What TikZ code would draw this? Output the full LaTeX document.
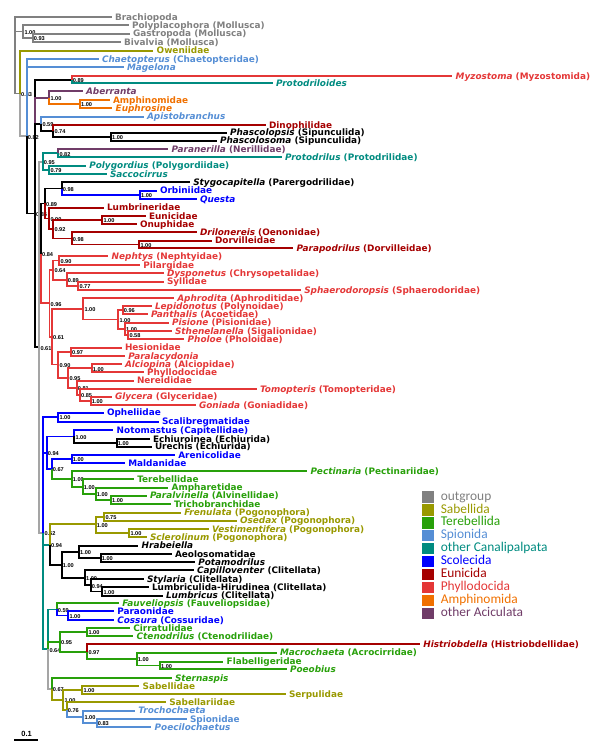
\documentclass[tikz,border=0pt]{standalone}
\usepackage{fontspec}
\setmainfont{DejaVu Sans}
\newfontfamily\supfont{Liberation Sans}
\newfontfamily\legfont{Carlito}
\usetikzlibrary{positioning}
\definecolor{cOut}{RGB}{128,128,128}
\definecolor{cSab}{RGB}{153,153,0}
\definecolor{cTer}{RGB}{40,160,10}
\definecolor{cSpi}{RGB}{85,142,213}
\definecolor{cCan}{RGB}{0,139,128}
\definecolor{cSco}{RGB}{0,0,255}
\definecolor{cEun}{RGB}{165,0,0}
\definecolor{cPhy}{RGB}{228,55,55}
\definecolor{cAmp}{RGB}{240,112,0}
\definecolor{cAci}{RGB}{112,60,104}
\definecolor{cBack}{RGB}{165,165,165}
\newcommand{\taxon}[6]{%
  \node[taxon,text=#5] (#1) at (#3,#4) {#6};
  \draw[branch,#5] (#2) |- (#1);}
\newcommand{\clade}[6]{%
  \coordinate (#1) at (#3,#4);
  \draw[branch,#5] (#2) |- (#1);
  \node[support] (#1-pp) at (#1) {#6};}
\begin{document}
\begin{tikzpicture}[x=1pt,y=-1pt,
    branch/.style={line width=1.8pt},
    taxon/.style={anchor=west,inner xsep=3.5pt,inner ysep=0pt,outer sep=0pt,
      text height=6.4pt,text depth=0pt,font=\bfseries\fontsize{8.9}{9}\selectfont},
    support/.style={anchor=west,inner sep=0pt,xshift=1pt,yshift=-0.8pt,
      text height=3.9pt,text depth=0pt,font=\supfont\bfseries\fontsize{5.6}{6}\selectfont},
    swatch/.style={minimum width=12.6pt,minimum height=11.4pt,inner sep=0pt,outer sep=0pt},
    legtext/.style={anchor=west,inner sep=0pt,text height=6.2pt,text depth=0pt,
      font=\legfont\fontsize{13.4}{14}\selectfont}]
\useasboundingbox (0,0) rectangle (600,752);

% outgroup
\coordinate (root) at (14.7,55.4);
\taxon{brac}{root}{111.5}{17.3}{cOut}{Brachiopoda}
\clade{moll}{root}{23.3}{31.5}{cOut}{1.00}
\taxon{poly}{moll}{128.5}{25.3}{cOut}{Polyplacophora (Mollusca)}
\clade{gabi}{moll}{32.7}{37.85}{cOut}{0.93}
\taxon{gast}{gabi}{129.5}{33.7}{cOut}{Gastropoda (Mollusca)}
\taxon{biva}{gabi}{120.5}{42}{cOut}{Bivalvia (Mollusca)}

% annelida
\clade{n083}{root}{20}{93.5}{cOut}{0.83}
\taxon{owen}{n083}{153.2}{50.7}{cSab}{Oweniidae}
\clade{n082a}{n083}{26.7}{136.35}{cBack}{0.82}
\taxon{chae}{n082a}{98.5}{59}{cSpi}{\textit{Chaetopterus} (Chaetopteridae)}
\taxon{mage}{n082a}{123.5}{67}{cSpi}{\textit{Magelona}}
\clade{n085}{n082a}{35}{213.5}{black}{0.85}
\clade{n089a}{n085}{71.7}{79.65}{black}{0.89}
\taxon{myzo}{n089a}{452.2}{76}{cPhy}{\textit{Myzostoma} (Myzostomida)}
\taxon{ptds}{n089a}{272.5}{83.3}{cCan}{\textit{Protodriloides}}
\clade{acic}{n085}{49.3}{97.6}{cAci}{1.00}
\taxon{aber}{acic}{82.5}{91}{cAci}{\textit{Aberranta}}
\clade{amph}{acic}{80}{104.15}{cAmp}{1.00}
\taxon{amin}{amph}{109.5}{100}{cAmp}{Amphinomidae}
\taxon{euph}{amph}{112.2}{108.3}{cAmp}{\textit{Euphrosine}}
\clade{n059a}{n085}{41.3}{123.75}{black}{0.59}
\taxon{apis}{n059a}{143.5}{116.7}{cSpi}{\textit{Apistobranchus}}
\clade{n074}{n059a}{53.3}{130.8}{black}{0.74}
\taxon{dino}{n074}{265.5}{125}{cEun}{Dinophilidae}
\clade{sipu}{n074}{111}{136.7}{black}{1.00}
\taxon{phsp}{sipu}{226.5}{132.7}{black}{\textit{Phascolopsis} (Sipunculida)}
\taxon{phsm}{sipu}{216.5}{140.7}{black}{\textit{Phascolosoma} (Sipunculida)}
\clade{n061a}{n085}{39.3}{347.35}{black}{0.61}

\clade{n095a}{n061a}{42.7}{161.6}{cBack}{0.95}
\clade{n082b}{n095a}{58.3}{153.3}{cCan}{0.82}
\taxon{pane}{n082b}{168.2}{149.3}{cAci}{\textit{Paranerilla} (Nerillidae)}
\taxon{prot}{n082b}{281.5}{157.3}{cCan}{\textit{Protodrilus} (Protodrilidae)}
\clade{n079}{n095a}{49.3}{169.85}{cCan}{0.79}
\taxon{polg}{n079}{85.8}{165.7}{cCan}{\textit{Polygordius} (Polygordiidae)}
\taxon{sacc}{n079}{106.5}{174}{cCan}{\textit{Saccocirrus}}

\clade{n084}{n061a}{41}{253.5}{cBack}{0.84}
\clade{n089b}{n084}{45}{203.45}{black}{0.89}
\clade{n098}{n089b}{61.7}{188.55}{black}{0.98}
\taxon{styg}{n098}{189.8}{182.3}{black}{\textit{Stygocapitella} (Parergodrilidae)}
\clade{orbi}{n098}{140}{194.85}{cSco}{1.00}
\taxon{orbn}{orbi}{156.5}{190.7}{cSco}{Orbiniidae}
\taxon{ques}{orbi}{196.5}{199}{cSco}{\textit{Questa}}
\clade{n090a}{n089b}{49.3}{218.5}{cEun}{0.90}
\taxon{lumb}{n090a}{103.5}{207.7}{cEun}{Lumbrineridae}
\clade{n092}{n090a}{53.3}{229.2}{cEun}{0.92}
\clade{euon}{n092}{102.3}{220}{cEun}{1.00}
\taxon{euni}{euon}{145.5}{216}{cEun}{Eunicidae}
\taxon{onup}{euon}{136.5}{224}{cEun}{Onuphidae}
\clade{n098b}{n092}{71.7}{238.4}{cEun}{0.98}
\taxon{dril}{n098b}{196.5}{232.3}{cEun}{\textit{Drilonereis} (Oenonidae)}
\clade{dorv}{n098b}{139.3}{244.5}{cEun}{1.00}
\taxon{dorl}{dorv}{211.5}{240.7}{cEun}{Dorvilleidae}
\taxon{papo}{dorv}{293.2}{248.3}{cEun}{\textit{Parapodrilus} (Dorvilleidae)}

\clade{n096}{n084}{49.5}{303.3}{cPhy}{0.96}
\clade{n064a}{n096}{53.3}{270.1}{cPhy}{0.64}
\clade{n090b}{n064a}{59.3}{260.5}{cPhy}{0.90}
\taxon{neph}{n090b}{108.2}{256}{cPhy}{\textit{Nephtys} (Nephtyidae)}
\taxon{pila}{n090b}{139.8}{265}{cPhy}{Pilargidae}
\clade{n089c}{n064a}{66.7}{279.65}{cPhy}{0.89}
\taxon{dysp}{n089c}{163.5}{273.3}{cPhy}{\textit{Dysponetus} (Chrysopetalidae)}
\clade{n077}{n089c}{78.3}{285.85}{cPhy}{0.77}
\taxon{syll}{n077}{163.5}{281.7}{cPhy}{Syllidae}
\taxon{spha}{n077}{300.8}{290}{cPhy}{\textit{Sphaerodoropsis} (Sphaerodoridae)}
\clade{n061b}{n096}{52}{336.65}{cPhy}{0.61}
\clade{aphr}{n061b}{83.3}{308.9}{cPhy}{1.00}
\taxon{aphd}{aphr}{173.8}{298.3}{cPhy}{\textit{Aphrodita} (Aphroditidae)}
\clade{n100a}{aphr}{118.3}{319.4}{cPhy}{1.00}
\clade{n096b}{n100a}{122.7}{310}{cPhy}{0.96}
\taxon{lepi}{n096b}{151.5}{306}{cPhy}{\textit{Lepidonotus} (Polynoidae)}
\taxon{pant}{n096b}{147.5}{314}{cPhy}{\textit{Panthalis} (Acoetidae)}
\clade{n100b}{n100a}{125}{328.8}{cPhy}{1.00}
\taxon{pisi}{n100b}{168.5}{322.7}{cPhy}{\textit{Pisione} (Pisionidae)}
\clade{n058}{n100b}{128.3}{335}{cPhy}{0.58}
\taxon{sthe}{n058}{171.5}{331}{cPhy}{\textit{Sthenelanella} (Sigalionidae)}
\taxon{phol}{n058}{184.2}{339}{cPhy}{\textit{Pholoe} (Pholoidae)}
\clade{n090c}{n061b}{58.3}{364.4}{cPhy}{0.90}
\clade{n097}{n090c}{71}{351.85}{cPhy}{0.97}
\taxon{hesi}{n097}{121.5}{347.7}{cPhy}{Hesionidae}
\taxon{plac}{n097}{124.8}{356}{cPhy}{\textit{Paralacydonia}}
\clade{n095b}{n090c}{68.3}{378.1}{cPhy}{0.95}
\clade{alph}{n095b}{91.7}{368.3}{cPhy}{1.00}
\taxon{alci}{alph}{121.5}{364.3}{cPhy}{\textit{Alciopina} (Alciopidae)}
\taxon{phyl}{alph}{143.5}{372.3}{cPhy}{Phyllodocidae}
\clade{n081}{n095b}{76.7}{387.9}{cPhy}{0.81}
\taxon{nere}{n081}{133.5}{380.7}{cPhy}{Nereididae}
\clade{n085b}{n081}{80}{394.9}{cPhy}{0.85}
\taxon{tomo}{n085b}{256.5}{389}{cPhy}{\textit{Tomopteris} (Tomopteridae)}
\clade{glyc}{n085b}{90.7}{400.85}{cPhy}{1.00}
\taxon{glyp}{glyc}{111.5}{396.7}{cPhy}{\textit{Glycera} (Glyceridae)}
\taxon{goni}{glyc}{195.5}{405}{cPhy}{\textit{Goniada} (Goniadidae)}

\clade{n062}{n061a}{43.3}{533.2}{cBack}{0.62}
\clade{ophe}{n062}{58.3}{417.2}{cSco}{1.00}
\taxon{ophl}{ophe}{103.5}{412.7}{cSco}{Opheliidae}
\taxon{scal}{ophe}{158.5}{421.7}{cSco}{Scalibregmatidae}
\clade{n094a}{n062}{46.7}{452.6}{cSco}{0.94}
\clade{capi}{n094a}{74.3}{436.4}{cSco}{1.00}
\taxon{noto}{capi}{113.2}{430}{cSco}{Notomastus (Capitellidae)}
\clade{echi}{capi}{116.7}{442.85}{black}{1.00}
\taxon{echn}{echi}{149.5}{439}{black}{Echiuroinea (Echiurida)}
\taxon{urec}{echi}{151.5}{446.7}{black}{Urechis (Echiurida)}
\clade{n067a}{n094a}{51.7}{468.85}{cSco}{0.67}
\clade{mald}{n067a}{71.7}{459.2}{cSco}{1.00}
\taxon{aren}{mald}{174.8}{455}{cSco}{Arenicolidae}
\taxon{mldn}{mald}{124.8}{463.3}{cSco}{Maldanidae}
\clade{tere}{n067a}{71.7}{478.8}{cTer}{1.00}
\taxon{pect}{tere}{307.2}{471}{cTer}{\textit{Pectinaria} (Pectinariidae)}
\clade{n100c}{tere}{82.7}{486.6}{cTer}{1.00}
\taxon{terb}{n100c}{133.8}{479.3}{cTer}{Terebellidae}
\clade{n100d}{n100c}{95.7}{493.8}{cTer}{1.00}
\taxon{amph}{n100d}{168.2}{487.7}{cTer}{Ampharetidae}
\clade{n100e}{n100d}{111}{499.85}{cTer}{1.00}
\taxon{palv}{n100e}{146.5}{495.7}{cTer}{\textit{Paralvinella} (Alvinellidae)}
\taxon{tric}{n100e}{170.5}{504}{cTer}{Trichobranchidae}

\clade{n094b}{n062}{50}{544.7}{cCan}{0.94}
\clade{sibo}{n094b}{95.7}{524.3}{cSab}{1.00}
\clade{n075}{sibo}{104.3}{516.7}{cSab}{0.75}
\taxon{fren}{n075}{180.8}{512.7}{cSab}{\textit{Frenulata} (Pogonophora)}
\taxon{osed}{n075}{236.5}{520.7}{cSab}{\textit{Osedax} (Pogonophora)}
\clade{n100g}{sibo}{129.3}{533.15}{cSab}{1.00}
\taxon{vest}{n100g}{208.5}{529}{cSab}{\textit{Vestimentifera} (Pogonophora)}
\taxon{scle}{n100g}{146.5}{537.3}{cSab}{\textit{Sclerolinum} (Pogonophora)}
\clade{n100f}{n094b}{61.7}{564.75}{black}{1.00}
\clade{n100h}{n100f}{79}{551.9}{black}{1.00}
\taxon{hrab}{n100h}{138.2}{545.7}{black}{\textit{Hrabeiella}}
\clade{n100j}{n100h}{100.7}{558.15}{black}{1.00}
\taxon{aeol}{n100j}{171.5}{554}{black}{Aeolosomatidae}
\taxon{pota}{n100j}{194.8}{562.3}{black}{\textit{Potamodrilus}}
\clade{n100i}{n100f}{85}{577.6}{black}{1.00}
\taxon{capv}{n100i}{193.5}{570}{black}{\textit{Capilloventer} (Clitellata)}
\clade{n094c}{n100i}{90.7}{585.3}{black}{0.94}
\taxon{styl}{n094c}{143.5}{579}{black}{\textit{Stylaria} (Clitellata)}
\clade{n100k}{n094c}{102.3}{591.5}{black}{1.00}
\taxon{lhir}{n100k}{148.5}{587.3}{black}{Lumbriculida-Hirudinea (Clitellata)}
\taxon{lmbc}{n100k}{162.5}{595.7}{black}{\textit{Lumbricus} (Clitellata)}

\clade{n064b}{n062}{48.3}{649.25}{cCan}{0.64}
\clade{n059b}{n064b}{56.7}{609.4}{cCan}{0.59}
\taxon{fauv}{n059b}{118.8}{603.3}{cTer}{\textit{Fauveliopsis} (Fauveliopsidae)}
\clade{parc}{n059b}{68.3}{615.5}{cSco}{1.00}
\taxon{prnd}{parc}{113.8}{611}{cSco}{Paraonidae}
\taxon{coss}{parc}{113.8}{620}{cSco}{\textit{Cossura} (Cossuridae)}
\clade{n095c}{n064b}{60}{641.9}{cTer}{0.95}
\clade{cirr}{n095c}{87.3}{632.15}{cTer}{1.00}
\taxon{cirt}{cirr}{129.8}{628.3}{cTer}{Cirratulidae}
\taxon{cten}{cirr}{133.2}{636}{cTer}{\textit{Ctenodrilus} (Ctenodrilidae)}
\clade{n097b}{n095c}{87.3}{651.7}{cTer}{0.97}
\taxon{hist}{n097b}{419.8}{644.3}{cEun}{\textit{Histriobdella} (Histriobdellidae)}
\clade{n100l}{n097b}{136.7}{659.1}{cTer}{1.00}
\taxon{macr}{n100l}{276.5}{652.7}{cTer}{\textit{Macrochaeta} (Acrocirridae)}
\clade{flab}{n100l}{160}{665.5}{cTer}{1.00}
\taxon{flbg}{flab}{223.2}{661.7}{cTer}{Flabelligeridae}
\taxon{poeo}{flab}{286.5}{669.3}{cTer}{\textit{Poeobius}}
\clade{n067b}{n064b}{51.7}{689.1}{cBack}{0.67}
\taxon{ster}{n067b}{171.5}{678.3}{cTer}{\textit{Sternaspis}}
\clade{n100m}{n067b}{63.3}{699.9}{cSab}{1.00}
\clade{sabe}{n100m}{82.3}{690.15}{cSab}{1.00}
\taxon{sabl}{sabe}{139.2}{686}{cSab}{Sabellidae}
\taxon{serp}{sabe}{285.5}{694.3}{cSab}{Serpulidae}
\clade{n076}{n100m}{66.7}{709.6}{cSab}{0.76}
\taxon{sblr}{n076}{165.8}{702.3}{cSab}{Sabellariidae}
\clade{n100n}{n076}{83.3}{716.9}{cSpi}{1.00}
\taxon{troc}{n100n}{134.8}{710.7}{cSpi}{\textit{Trochochaeta}}
\clade{n083b}{n100n}{96.7}{723.2}{cSpi}{0.83}
\taxon{spio}{n083b}{186.5}{719}{cSpi}{Spionidae}
\taxon{poec}{n083b}{151.2}{727.3}{cSpi}{\textit{Poecilochaetus}}

% scale bar
\coordinate (sbl) at (14,740);
\coordinate (sbr) at (38.3,740);
\draw[line width=1.3pt] (sbl) -- (sbr);
\node[font=\supfont\bfseries\fontsize{7.5}{8}\selectfont,inner sep=0pt] (sbt) at (26.7,734.3) {0.1};

% legend
\node[swatch,fill=cOut] (kOut) at (428,497) {};
\node[swatch,fill=cSab,below=1.52pt of kOut] (kSab) {};
\node[swatch,fill=cTer,below=1.52pt of kSab] (kTer) {};
\node[swatch,fill=cSpi,below=1.52pt of kTer] (kSpi) {};
\node[swatch,fill=cCan,below=1.52pt of kSpi] (kCan) {};
\node[swatch,fill=cSco,below=1.52pt of kCan] (kSco) {};
\node[swatch,fill=cEun,below=1.52pt of kSco] (kEun) {};
\node[swatch,fill=cPhy,below=1.52pt of kEun] (kPhy) {};
\node[swatch,fill=cAmp,below=1.52pt of kPhy] (kAmp) {};
\node[swatch,fill=cAci,below=1.52pt of kAmp] (kAci) {};
\node[legtext,text=cOut,right=6.3pt of kOut] (lOut) {outgroup};
\node[legtext,text=cSab,right=6.3pt of kSab] (lSab) {Sabellida};
\node[legtext,text=cTer,right=6.3pt of kTer] (lTer) {Terebellida};
\node[legtext,text=cSpi,right=6.3pt of kSpi] (lSpi) {Spionida};
\node[legtext,text=cCan,right=6.3pt of kCan] (lCan) {other Canalipalpata};
\node[legtext,text=cSco,right=6.3pt of kSco] (lSco) {Scolecida};
\node[legtext,text=cEun,right=6.3pt of kEun] (lEun) {Eunicida};
\node[legtext,text=cPhy,right=6.3pt of kPhy] (lPhy) {Phyllodocida};
\node[legtext,text=cAmp,right=6.3pt of kAmp] (lAmp) {Amphinomida};
\node[legtext,text=cAci,right=6.3pt of kAci] (lAci) {other Aciculata};
\end{tikzpicture}
\end{document}
